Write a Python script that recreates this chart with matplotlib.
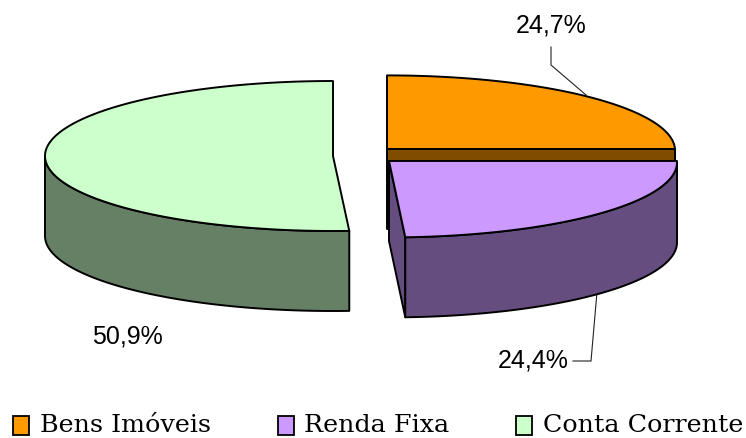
import numpy as np
import matplotlib
matplotlib.use('Agg')
import matplotlib.pyplot as plt
from matplotlib.legend_handler import HandlerPatch
from matplotlib.patches import Patch, Polygon

categories = ['Bens Imóveis', 'Renda Fixa', 'Conta Corrente']
values = [24.7, 24.4, 50.9]
labels = ['24,7%', '24,4%', '50,9%']
top_colors = ['#FF9900', '#CC99FF', '#CCFFCC']
side_colors = ['#804D00', '#664D80', '#668066']

# pie centre of each exploded slice, in pixels
centers = [(387, 151.4), (389, 163.4), (333, 157)]
rx, ry = 288, 75
depth = 80

fig = plt.figure(figsize=(7.46, 4.39), dpi=100)
ax = fig.add_axes([0, 0, 1, 1])
ax.set_xlim(0, 746)
ax.set_ylim(439, 0)
ax.axis('off')

# slice angles, clockwise from 12 o'clock
edges = np.concatenate([[0], np.cumsum(values)]) / sum(values) * 2 * np.pi

def rim(c, a, b):
    t = np.linspace(a, b, 120)
    return np.column_stack([c[0] + rx * np.sin(t), c[1] - ry * np.cos(t)])

def poly(pts, color, z):
    ax.add_patch(Polygon(pts, closed=True, fc=color, ec='black', lw=1.4, joinstyle='round', zorder=z))

def draw_slice(i, z):
    c = centers[i]
    a, b = edges[i], edges[i + 1]
    down = np.array([0, depth])
    apex = np.array(c, dtype=float)
    # the cut running across the chart is flat in the picture
    if i == 0:
        apex[1] = rim(c, b, b)[0][1]
        end = rim(c, b, b)[0]
        poly([apex, end, end + down, apex + down], side_colors[i], z)
    if i == 1:
        apex[1] = rim(c, a, a)[0][1]
        end = rim(c, b, b)[0]
        poly([apex, end, end + down, apex + down], side_colors[i], z)
    # outer wall, only the part facing front
    lo, hi = max(a, np.pi / 2), min(b, 3 * np.pi / 2)
    if hi > lo:
        r = rim(c, lo, hi)
        poly(np.vstack([r, (r + down)[::-1]]), side_colors[i], z)
    # top
    poly(np.vstack([apex, rim(c, a, b)]), top_colors[i], z + 0.5)

draw_slice(0, 1)
draw_slice(2, 2)
draw_slice(1, 3)

# leader lines
ax.plot([551, 551, 586], [48, 66, 96], color='#222222', lw=0.8, zorder=0)
ax.plot([597, 591, 573], [293, 362, 362], color='#222222', lw=0.8, zorder=0)

ax.text(551, 26, labels[0], ha='center', va='center', family='Liberation Sans', fontsize=18)
ax.text(533, 361, labels[1], ha='center', va='center', family='Liberation Sans', fontsize=18)
ax.text(127, 337, labels[2], ha='center', va='center', family='Liberation Sans', fontsize=18)

handles = [Patch(fc=col, ec='black', lw=1.3) for col in top_colors]
ax.legend(handles, categories, loc='center left', bbox_to_anchor=(13 / 746, 1 - 425.5 / 439),
          ncol=3, frameon=False, borderpad=0, borderaxespad=0, handlelength=0.63, handleheight=0.36,
          handletextpad=0.43, columnspacing=2.62,
          handler_map={Patch: HandlerPatch(ypad=-0.27)},
          prop={'family': 'DejaVu Serif', 'size': 18.3})

fig.savefig('out.png', dpi=100)
